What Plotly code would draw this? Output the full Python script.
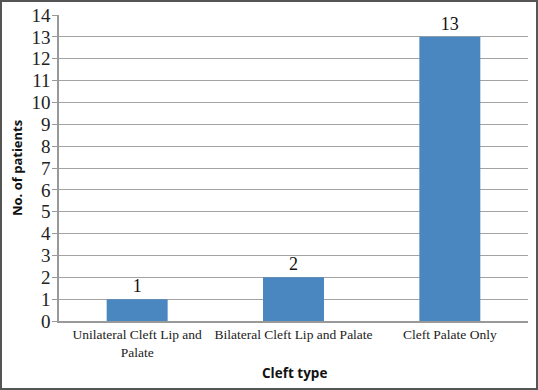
import plotly.graph_objects as go

categories = ["Unilateral Cleft Lip and<br>Palate", "Bilateral Cleft Lip and Palate", "Cleft Palate Only"]
patients = [1, 2, 13]
y_ticks = list(range(0, 15))

W, H = 538, 390
L, R, T, B = 59, 10, 15, 69
pw, ph = W - L - R, H - T - B

fig = go.Figure(go.Bar(
    x=categories, y=patients,
    marker=dict(color="#4a86c0", line=dict(width=0)),
    text=[str(v) for v in patients], textposition="outside",
    textfont=dict(family="Liberation Serif", size=18, color="#111"),
    cliponaxis=False,
))

fig.update_layout(
    width=W, height=H,
    margin=dict(l=L, r=R, t=T, b=B, autoexpand=False),
    paper_bgcolor="white", plot_bgcolor="white",
    bargap=0.61, showlegend=False,
    font=dict(family="Liberation Serif", color="#111"),
    xaxis=dict(
        showline=True, linecolor="#999", linewidth=1.5, automargin=False,
        tickfont=dict(family="Liberation Serif", size=13.5, color="#222"),
        ticks="",
    ),
    yaxis=dict(
        range=[0, 14], tickvals=y_ticks, showline=True, linecolor="#999", linewidth=1.5,
        ticks="outside", ticklen=5, tickcolor="#999", ticklabelstandoff=-2, automargin=False,
        showgrid=True, gridcolor="#a3a3a3", gridwidth=1.2,
        tickfont=dict(family="Liberation Serif", size=19, color="#222"),
        zeroline=False,
    ),
    annotations=[
        dict(text="<b>No. of patients</b>", xref="paper", yref="paper",
             x=-(L - 17) / pw, y=0.5, xanchor="center", yanchor="middle",
             textangle=-90, showarrow=False,
             font=dict(family="Open Sans", size=13, color="#111")),
        dict(text="<b>Cleft type</b>", xref="paper", yref="paper",
             x=(294 - L) / pw, y=-(373 - (T + ph)) / ph, xanchor="center", yanchor="middle",
             showarrow=False,
             font=dict(family="Open Sans", size=13.5, color="#111")),
    ],
    shapes=[dict(
        type="rect", xref="paper", yref="paper",
        x0=-(L - 1) / pw, x1=1 + (R - 1) / pw,
        y0=-(B - 1) / ph, y1=1 + (T - 1) / ph,
        line=dict(color="#555", width=2),
    )],
)

fig.write_html("out.html", config={"displayModeBar": False},
               post_script="document.body.style.margin='0';document.body.style.padding='0';")
